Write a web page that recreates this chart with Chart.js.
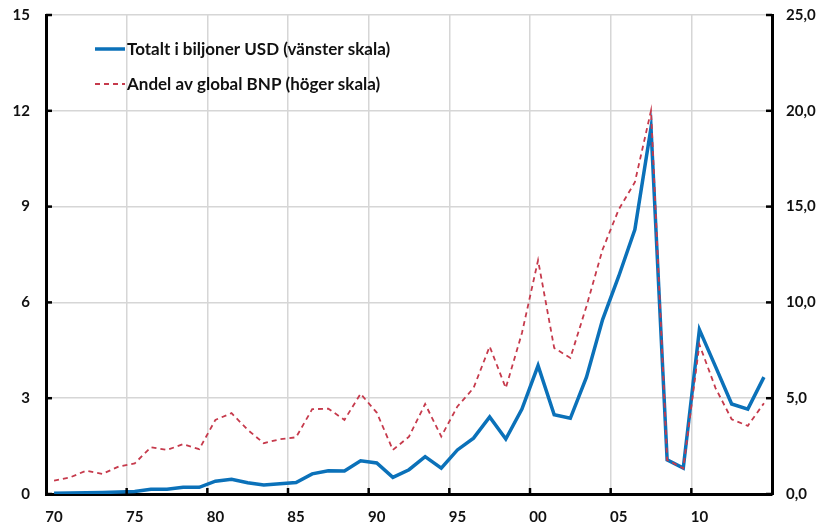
<!DOCTYPE html>
<html>
<head>
<meta charset="utf-8">
<script src="https://cdn.jsdelivr.net/npm/chart.js@4.4.1/dist/chart.umd.min.js"></script>
<style>
  html, body { margin: 0; padding: 0; background: #fff; }
  #wrap { position: relative; width: 821px; height: 526px; }
</style>
</head>
<body>
<div id="wrap"><canvas id="c" width="821" height="526"></canvas></div>
<script>
// ---- Data ----
const years = [1970,1971,1972,1973,1974,1975,1976,1977,1978,1979,
               1980,1981,1982,1983,1984,1985,1986,1987,1988,1989,
               1990,1991,1992,1993,1994,1995,1996,1997,1998,1999,
               2000,2001,2002,2003,2004,2005,2006,2007,2008,2009,
               2010,2011,2012,2013,2014];
const totaltBiljonerUSD = [0.02,0.03,0.04,0.05,0.06,0.08,0.15,0.15,0.21,0.21,
                           0.40,0.46,0.35,0.28,0.32,0.36,0.63,0.73,0.72,1.04,
                           0.97,0.52,0.76,1.17,0.81,1.38,1.75,2.41,1.72,2.66,
                           4.02,2.48,2.37,3.66,5.46,6.82,8.28,11.47,1.07,0.81,
                           5.15,3.99,2.82,2.66,3.66];
const andelGlobalBNP = [0.70,0.87,1.22,1.05,1.43,1.60,2.44,2.30,2.60,2.34,
                        3.87,4.22,3.35,2.65,2.86,2.96,4.43,4.45,3.87,5.23,
                        4.25,2.30,2.99,4.70,3.00,4.57,5.53,7.70,5.53,8.40,
                        12.20,7.62,7.10,9.80,12.76,14.85,16.27,20.00,1.78,1.34,
                        7.80,5.53,3.90,3.56,4.74];
const seriesNames = ['Totalt i biljoner USD (vänster skala)', 'Andel av global BNP (höger skala)'];
const leftTicks = [0, 3, 6, 9, 12, 15];
const rightTicks = [0, 5, 10, 15, 20, 25];

const BLUE = '#0B71B9';
const RED = '#C63A4C';
const GRID = '#d6d6d6';
const FONT = 'Lato, "Open Sans", sans-serif';

const tickMarks = {
  id: 'tickMarks',
  afterDatasetsDraw(chart) {
    const ctx = chart.ctx;
    const x = chart.scales.x, y = chart.scales.y, y1 = chart.scales.y1;
    ctx.save();
    ctx.strokeStyle = '#000';
    ctx.lineWidth = 2.5;
    const bottom = chart.chartArea.bottom;
    const n = years.length;
    const w = (chart.chartArea.right - chart.chartArea.left) / n;
    years.forEach((yr, i) => {
      if (yr % 5 === 0 && i > 0) {
        const px = x.getPixelForValue(i) - w / 2;
        ctx.beginPath(); ctx.moveTo(px, bottom); ctx.lineTo(px, bottom - 6); ctx.stroke();
      }
    });
    leftTicks.forEach(v => {
      const py = y.getPixelForValue(v);
      ctx.beginPath(); ctx.moveTo(chart.chartArea.left, py); ctx.lineTo(chart.chartArea.left + 6, py); ctx.stroke();
    });
    rightTicks.forEach(v => {
      const py = y1.getPixelForValue(v);
      ctx.beginPath(); ctx.moveTo(chart.chartArea.right, py); ctx.lineTo(chart.chartArea.right - 6, py); ctx.stroke();
    });
    ctx.restore();
  }
};

const insideLegend = {
  id: 'insideLegend',
  afterDraw(chart) {
    const ctx = chart.ctx;
    ctx.save();
    ctx.font = 'bold 17px ' + FONT;
    ctx.fillStyle = '#111';
    ctx.textBaseline = 'middle';
    const items = [
      { y: 49, color: BLUE, width: 3.5, dash: [] },
      { y: 84, color: RED, width: 1.8, dash: [5, 4] }
    ];
    items.forEach((it, i) => {
      ctx.strokeStyle = it.color;
      ctx.lineWidth = it.width;
      ctx.setLineDash(it.dash);
      ctx.beginPath(); ctx.moveTo(95, it.y); ctx.lineTo(125, it.y); ctx.stroke();
      ctx.setLineDash([]);
      ctx.fillText(seriesNames[i], 127, it.y + 1);
    });
    ctx.restore();
  }
};

function fixVertical(width) {
  return (s) => { s.width = width; s.paddingTop = 0; s.paddingBottom = 0; };
}

new Chart(document.getElementById('c'), {
  type: 'line',
  data: {
    labels: years,
    datasets: [
      {
        label: seriesNames[0],
        data: totaltBiljonerUSD,
        yAxisID: 'y',
        borderColor: BLUE,
        borderWidth: 3.5,
        pointRadius: 0,
        tension: 0,
        order: 2
      },
      {
        label: seriesNames[1],
        data: andelGlobalBNP,
        yAxisID: 'y1',
        borderColor: RED,
        borderWidth: 1.8,
        borderDash: [5, 4],
        pointRadius: 0,
        tension: 0,
        order: 1
      }
    ]
  },
  options: {
    responsive: false,
    animation: false,
    layout: { padding: { top: 15, left: 0, right: 0, bottom: 0 } },
    plugins: { legend: { display: false }, tooltip: { enabled: false } },
    scales: {
      x: {
        type: 'category',
        offset: true,
        grid: {
          offset: true,
          drawTicks: false,
          lineWidth: 1.5,
          color: (c) => (c.index > 0 && c.index < years.length && years[c.index] % 5 === 0) ? GRID : 'rgba(0,0,0,0)'
        },
        border: { color: '#000', width: 3 },
        ticks: {
          autoSkip: false,
          maxRotation: 0,
          padding: 14,
          color: '#111',
          font: { family: FONT, size: 15, weight: 'bold' },
          callback: function(val, idx) {
            const yr = years[idx];
            return yr % 5 === 0 ? String(yr % 100).padStart(2, '0') : '';
          }
        },
        afterFit: (s) => { s.height = 32; s.paddingLeft = 0; s.paddingRight = 0; }
      },
      y: {
        position: 'left',
        min: 0, max: 15,
        afterBuildTicks: (s) => { s.ticks = leftTicks.map(v => ({ value: v })); },
        grid: { color: GRID, lineWidth: 1.5, drawTicks: false },
        border: { color: '#000', width: 3 },
        ticks: {
          padding: 16,
          color: '#111',
          font: { family: FONT, size: 15, weight: 'bold' },
          callback: (v) => String(v)
        },
        afterFit: fixVertical(46)
      },
      y1: {
        position: 'right',
        min: 0, max: 25,
        afterBuildTicks: (s) => { s.ticks = rightTicks.map(v => ({ value: v })); },
        grid: { drawOnChartArea: false, drawTicks: false },
        border: { color: '#000', width: 3 },
        ticks: {
          padding: 14,
          color: '#111',
          font: { family: FONT, size: 15, weight: 'bold' },
          callback: (v) => Number(v).toFixed(1).replace('.', ',')
        },
        afterFit: fixVertical(49)
      }
    }
  },
  plugins: [tickMarks, insideLegend]
});
</script>
</body>
</html>
